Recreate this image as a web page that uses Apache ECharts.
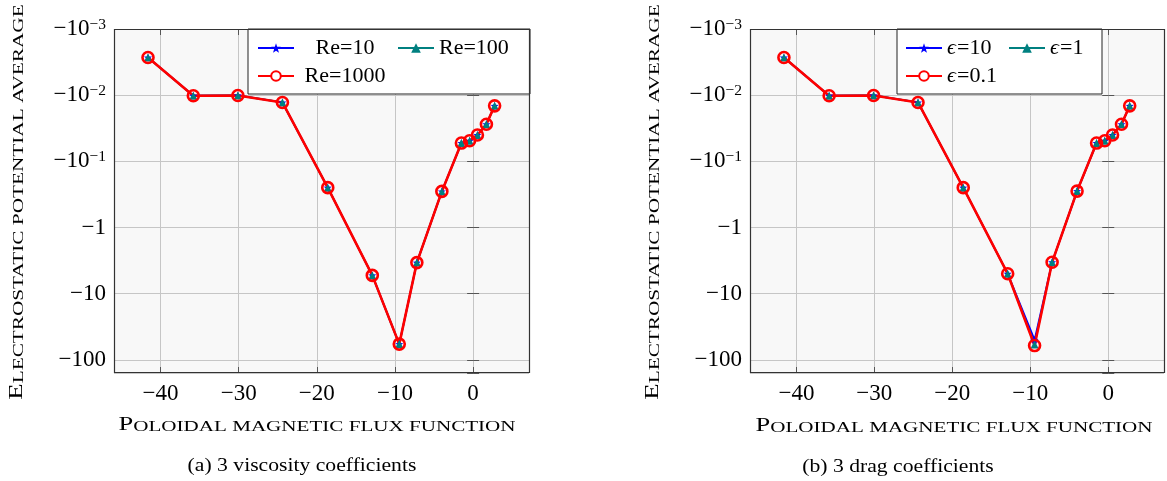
<!DOCTYPE html>
<html><head><meta charset="utf-8">
<script src="https://cdn.jsdelivr.net/npm/echarts@6/dist/echarts.min.js"></script>
<style>html,body{margin:0;padding:0;background:#fff}#c{width:1167px;height:481px}</style>
</head><body><div id="c"></div>
<script>
// ---- data ----
const xValues = [-41.6, -35.8, -30.1, -24.4, -18.6, -12.9, -9.45, -7.2, -4.0, -1.5, -0.45, 0.55, 1.7, 2.75];
const re10   = [-0.0027, -0.0102, -0.0101, -0.0129, -0.25, -5.3, -58, -3.4, -0.285, -0.053, -0.049, -0.040, -0.0275, -0.0145];
const re100  = [-0.0027, -0.0102, -0.0101, -0.0129, -0.25, -5.3, -58, -3.4, -0.285, -0.053, -0.049, -0.040, -0.0275, -0.0145];
const re1000 = [-0.0027, -0.0102, -0.0101, -0.0129, -0.25, -5.3, -58, -3.4, -0.285, -0.053, -0.049, -0.040, -0.0275, -0.0145];
const eps10  = [-0.0027, -0.0102, -0.0101, -0.0129, -0.25, -5.0, -50, -3.35, -0.282, -0.053, -0.049, -0.040, -0.0275, -0.0145];
const eps1   = [-0.0027, -0.0102, -0.0101, -0.0129, -0.25, -5.0, -59, -3.35, -0.282, -0.053, -0.049, -0.040, -0.0275, -0.0145];
const eps01  = [-0.0027, -0.0102, -0.0101, -0.0129, -0.25, -5.0, -61, -3.35, -0.282, -0.053, -0.049, -0.040, -0.0275, -0.0145];
const namesLeft  = ['Re=10', 'Re=100', 'Re=1000'];
const namesRight = ['\u03f5=10', '\u03f5=1', '\u03f5=0.1'];
const xTickValues = [-40, -30, -20, -10, 0];
const yTickExponents = [-3, -2, -1, 0, 1, 2];
const xTitle = 'Poloidal magnetic flux function';
const yTitle = 'Electrostatic potential average';
const captionLeft = '(a) 3 viscosity coefficients';
const captionRight = '(b) 3 drag coefficients';

// ---- layout/style ----
const FONT = '"Liberation Serif", "DejaVu Serif", serif';
const X_MIN = -45.95, X_MAX = 7.15;
const Y_MIN = 0.001, Y_MAX = Math.pow(10, 2.2);
const G = [{left: 114, top: 29, width: 415, height: 344}, {left: 750, top: 29, width: 414, height: 344}];
const BLUE = '#0000ff', TEAL = '#008080', RED = '#ff0000';

function smallCaps(s) {
  return s.split(' ').map((w, i) => {
    if (i === 0) return '{B|' + w[0].toUpperCase() + '}{s|' + w.slice(1).toUpperCase() + '}';
    return '{s|' + w.toUpperCase() + '}';
  }).join('{s| }');
}
const scRich = {
  B: {fontFamily: FONT, fontSize: 19.5, lineHeight: 19, verticalAlign: 'bottom', color: '#000'},
  s: {fontFamily: FONT, fontSize: 15.5, lineHeight: 15, verticalAlign: 'bottom', color: '#000'}
};

function xLabel(v) {
  const near = xTickValues.find(t => Math.abs(t - v) < 1e-6);
  if (near === undefined) return '';
  return near < 0 ? '\u2212' + (-near) : String(near);
}
function yLabel(v) {
  const e = Math.log10(v);
  const r = Math.round(e);
  if (Math.abs(e - r) > 0.01 || yTickExponents.indexOf(r) < 0) return '';
  if (r < 0) return '{b|\u221210}{p|\u2212' + (-r) + '}';
  return '{b|\u2212' + Math.pow(10, r) + '}';
}
const yRich = {
  b: {fontFamily: FONT, fontSize: 23, lineHeight: 24, color: '#000'},
  p: {fontFamily: FONT, fontSize: 15.5, lineHeight: 14, verticalAlign: 'top', color: '#000'}
};

function mainX(gi) {
  return {type: 'value', gridIndex: gi, min: X_MIN, max: X_MAX, position: 'bottom',
    axisLine: {show: false},
    axisTick: {show: true, inside: true, length: 6, lineStyle: {color: '#555', width: 1}},
    axisLabel: {formatter: xLabel, fontFamily: FONT, fontSize: 23, color: '#000', margin: 9},
    splitLine: {show: true, lineStyle: {color: '#c6c6c6', width: 1}}};
}
function topX(gi) {
  return {type: 'value', gridIndex: gi, min: X_MIN, max: X_MAX, position: 'top',
    axisLine: {show: false}, axisLabel: {show: false}, splitLine: {show: false},
    axisTick: {show: true, inside: true, length: 6, lineStyle: {color: '#555', width: 1}}};
}
function mainY(gi) {
  return {type: 'log', logBase: 10, gridIndex: gi, min: Y_MIN, max: Y_MAX, inverse: true, position: 'left',
    axisLine: {show: false},
    axisTick: {show: true, inside: true, length: 6, lineStyle: {color: '#555', width: 1}},
    axisLabel: {formatter: yLabel, rich: yRich, fontFamily: FONT, fontSize: 23, color: '#000', margin: 8},
    splitLine: {show: true, lineStyle: {color: '#c6c6c6', width: 1}},
    minorTick: {show: false}, minorSplitLine: {show: false}};
}
function rightY(gi) {
  return {type: 'log', logBase: 10, gridIndex: gi, min: Y_MIN, max: Y_MAX, inverse: true, position: 'right',
    axisLine: {show: false}, axisLabel: {show: false}, splitLine: {show: false},
    axisTick: {show: true, inside: true, length: 6, lineStyle: {color: '#555', width: 1}}};
}

const STAR = 'path://M0,-10 L2.35,-3.24 L9.51,-3.09 L3.8,1.24 L5.88,8.09 L0,4 L-5.88,8.09 L-3.8,1.24 L-9.51,-3.09 L-2.35,-3.24 Z';
function toPts(vals) { return xValues.map((x, i) => [x, -vals[i]]); }
function mkSeries(name, vals, gi, kind) {
  const base = {name, type: 'line', xAxisIndex: gi, yAxisIndex: gi, data: toPts(vals), animation: false, showSymbol: true};
  if (kind === 'blue') return Object.assign(base, {symbol: STAR, symbolSize: 8,
    lineStyle: {color: BLUE, width: 1.8}, itemStyle: {color: BLUE}});
  if (kind === 'teal') return Object.assign(base, {symbol: 'triangle', symbolSize: 8,
    lineStyle: {color: TEAL, width: 1.8}, itemStyle: {color: TEAL}});
  return Object.assign(base, {symbol: 'circle', symbolSize: 11,
    lineStyle: {color: RED, width: 2.6}, itemStyle: {color: 'rgba(0,0,0,0)', borderColor: RED, borderWidth: 2.6}});
}

const legendCommon = {
  orient: 'horizontal', itemWidth: 36, itemHeight: 12, itemGap: 6,
  backgroundColor: '#fff', borderColor: '#222', borderWidth: 1, borderRadius: 0,
  selectedMode: false,
  textStyle: {fontFamily: FONT, fontSize: 21, color: '#000', lineHeight: 22}
};
const legendLeft = Object.assign({}, legendCommon, {
  left: 248, top: 29, width: 262, padding: [8, 11, 7, 9],
  data: [namesLeft[0], namesLeft[1], {name: namesLeft[2], itemStyle: {color: '#fff'}}],
  formatter: n => n === namesLeft[1] ? '{c2|' + n + '}' : '{c1|' + n + '}',
  textStyle: Object.assign({}, legendCommon.textStyle, {rich: {
    c1: {fontFamily: FONT, fontSize: 22, lineHeight: 22, width: 92, align: 'center', color: '#000'},
    c2: {fontFamily: FONT, fontSize: 22, lineHeight: 22, width: 80, align: 'left', color: '#000'}
  }})
});
const legendRight = Object.assign({}, legendCommon, {
  left: 897, top: 29, width: 186, padding: [8, 12, 7, 8],
  data: [namesRight[0], namesRight[1], {name: namesRight[2], itemStyle: {color: '#fff'}}],
  formatter: n => '{e|' + n[0] + '}{' + (n === namesRight[1] ? 't2' : 't1') + '|' + n.slice(1) + '}',
  textStyle: Object.assign({}, legendCommon.textStyle, {rich: {
    e: {fontFamily: FONT, fontSize: 22, lineHeight: 22, fontStyle: 'italic', width: 10, color: '#000'},
    t1: {fontFamily: FONT, fontSize: 22, lineHeight: 22, width: 45, align: 'left', color: '#000'},
    t2: {fontFamily: FONT, fontSize: 22, lineHeight: 22, width: 30, align: 'left', color: '#000'}
  }})
});

function border(g) {
  return {type: 'rect', z: 100, silent: true,
    shape: {x: g.left + 0.5, y: g.top + 0.5, width: g.width, height: g.height - 1},
    style: {fill: null, stroke: '#333', lineWidth: 1.2}};
}
function textEl(x, y, text, rich, scaleX, rotation, size) {
  return {type: 'text', z: 100, x, y, scaleX: scaleX || 1, rotation: rotation || 0, silent: true,
    style: {text, rich, align: 'center', verticalAlign: 'middle', fill: '#000', fontFamily: FONT, fontSize: size || 15}};
}

const option = {
  animation: false,
  backgroundColor: '#fff',
  grid: G.map(g => Object.assign({}, g, {show: true, backgroundColor: '#f8f8f8', borderWidth: 0, containLabel: false})),
  xAxis: [mainX(0), mainX(1), topX(0), topX(1)],
  yAxis: [mainY(0), mainY(1), rightY(0), rightY(1)],
  legend: [legendLeft, legendRight],
  series: [
    mkSeries(namesLeft[0], re10, 0, 'blue'),
    mkSeries(namesLeft[1], re100, 0, 'teal'),
    mkSeries(namesLeft[2], re1000, 0, 'red'),
    mkSeries(namesRight[0], eps10, 1, 'blue'),
    mkSeries(namesRight[1], eps1, 1, 'teal'),
    mkSeries(namesRight[2], eps01, 1, 'red')
  ],
  graphic: [
    border(G[0]), border(G[1]),
    textEl(317, 425, smallCaps(xTitle), scRich, 1.36, 0),
    textEl(954, 426, smallCaps(xTitle), scRich, 1.36, 0),
    textEl(17, 202, smallCaps(yTitle), scRich, 1.37, Math.PI / 2),
    textEl(653, 202, smallCaps(yTitle), scRich, 1.37, Math.PI / 2),
    textEl(302, 466, captionLeft, null, 1.14, 0, 19),
    textEl(898, 467, captionRight, null, 1.14, 0, 19)
  ]
};
const chart = echarts.init(document.getElementById('c'), null, {renderer: 'canvas'});
chart.setOption(option);
</script>
</body></html>
